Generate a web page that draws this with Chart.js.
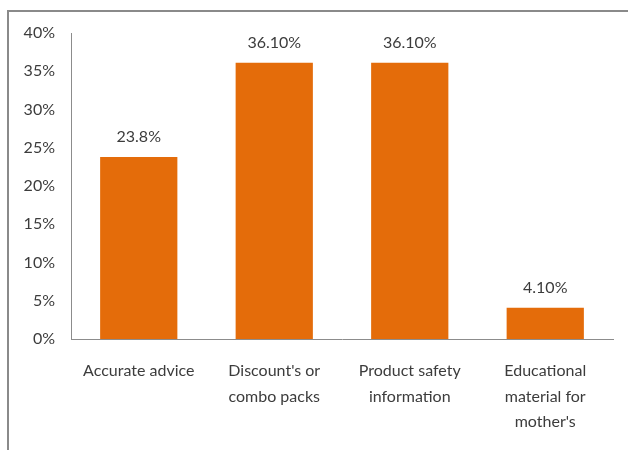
<!DOCTYPE html>
<html lang="en">

<head>
    <meta charset="utf-8" />
    <title>Preferred information</title>
    <script src="https://cdn.jsdelivr.net/npm/chart.js@4.4.0/dist/chart.umd.min.js"></script>
    <style>
        html, body { margin: 0; padding: 0; background: #fff; }
        #frame {
            position: absolute;
            left: 7px;
            top: 10px;
            width: 640px;
            height: 460px;
            border-top: 2px solid #8a8a8a;
            border-left: 2px solid #8a8a8a;
        }
        #wrap { position: absolute; left: 0; top: 0; width: 628px; height: 450px; }
    </style>
</head>

<body>
    <div id="frame"></div>
    <div id="wrap">
        <canvas id="chart-bars" width="628" height="450"></canvas>
    </div>
</body>

<script>
    const categories = [
        ['Accurate advice'],
        ["Discount's or", 'combo packs'],
        ['Product safety', 'information'],
        ['Educational', 'material for', "mother's"]
    ];
    const shares = [23.8, 36.1, 36.1, 4.1];
    const shareLabels = ['23.8%', '36.10%', '36.10%', '4.10%'];
    const yTicks = [0, 5, 10, 15, 20, 25, 30, 35, 40];

    const textColor = '#3c3c3c';
    const fontFamily = 'Lato, "Open Sans", sans-serif';

    // writes the value text above each bar
    const barValues = {
        id: 'barValues',
        afterDatasetsDraw(chart) {
            const ctx = chart.ctx;
            const meta = chart.getDatasetMeta(0);
            ctx.save();
            ctx.font = `16px ${fontFamily}`;
            ctx.fillStyle = textColor;
            ctx.textAlign = 'center';
            ctx.textBaseline = 'middle';
            meta.data.forEach((bar, i) => {
                ctx.fillText(shareLabels[i], bar.x, bar.y - 20);
            });
            ctx.restore();
        }
    };

    const _ctx = document.getElementById('chart-bars').getContext('2d');
    const _chart = new Chart(_ctx, {
        type: 'bar',
        data: {
            labels: categories,
            datasets: [{
                data: shares,
                backgroundColor: '#e46c0a',
                borderWidth: 0,
                barPercentage: 0.57,
                categoryPercentage: 1
            }]
        },
        options: {
            responsive: false,
            animation: false,
            layout: { padding: { top: 33, right: 15, left: 0, bottom: 0 } },
            plugins: {
                legend: { display: false },
                tooltip: { enabled: false }
            },
            scales: {
                x: {
                    grid: { display: false, drawTicks: false },
                    border: { display: true, color: '#8c8c8c', width: 1 },
                    ticks: {
                        color: textColor,
                        font: { family: fontFamily, size: 16, lineHeight: 1.6 },
                        padding: 19,
                        maxRotation: 0,
                        autoSkip: false
                    },
                    afterFit: scale => { scale.height = 111; }
                },
                y: {
                    min: 0,
                    max: 40,
                    grid: { display: false, drawTicks: false },
                    border: { display: true, color: '#8c8c8c', width: 1 },
                    afterBuildTicks: scale => { scale.ticks = yTicks.map(v => ({ value: v })); },
                    ticks: {
                        color: textColor,
                        font: { family: fontFamily, size: 16 },
                        padding: 16,
                        callback: v => v + '%'
                    },
                    afterFit: scale => { scale.width = 71; }
                }
            }
        },
        plugins: [barValues]
    });
</script>

</html>
